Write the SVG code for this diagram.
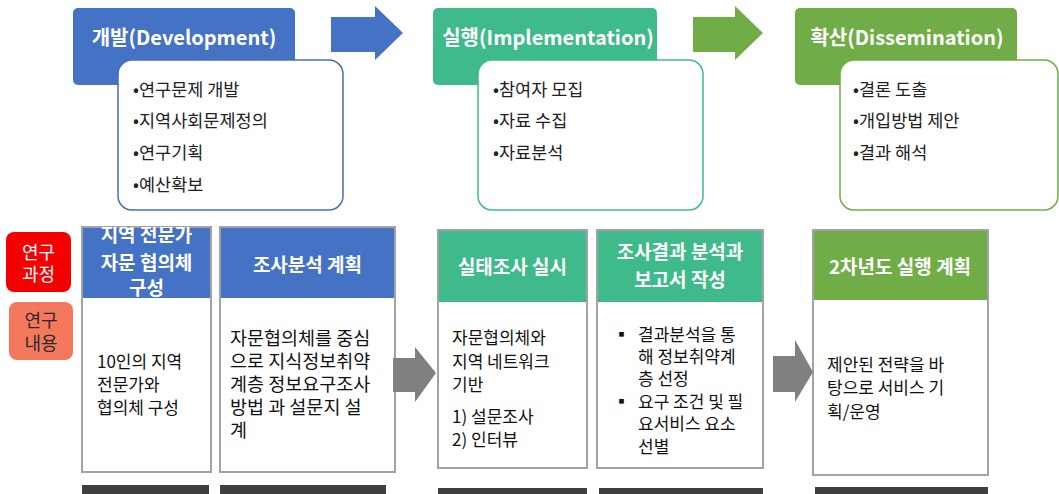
<svg xmlns="http://www.w3.org/2000/svg" width="1059" height="494" viewBox="0 0 1059 494">
<style>
text{font-family:"Noto Sans CJK KR","Noto Sans",sans-serif}
.ht{fill:#fff;font-size:20px;font-weight:700;text-anchor:middle}
.bl{fill:#222;font-size:17.5px}
.ch{fill:#fff;font-size:19px;font-weight:700;text-anchor:middle}
.cb{fill:#111;font-size:17px}
.c2{font-size:18.5px}
.col{fill:#fff;stroke:#a3a3a3;stroke-width:2}
.bar{fill:#3f3f42}
.lab{font-size:18px;text-anchor:middle}
</style>
<defs>
<clipPath id="c1"><rect x="82" y="227" width="129" height="71"/></clipPath>
</defs>
<rect width="1059" height="494" fill="#fff"/>

<g id="dev">
<rect x="73" y="8" width="222" height="77" rx="5" fill="#4472c4"/>
<text class="ht" x="184" y="45">개발(Development)</text>
<rect x="118" y="60" width="225" height="150" rx="14" fill="#fff" stroke="#4a6fae" stroke-width="1.5"/>
<text class="bl" x="133" y="96">•연구문제 개발</text>
<text class="bl" x="133" y="127">•지역사회문제정의</text>
<text class="bl" x="133" y="159">•연구기획</text>
<text class="bl" x="133" y="191">•예산확보</text>
</g>

<g id="impl">
<rect x="433" y="8" width="224" height="77" rx="5" fill="#3fba8b"/>
<text class="ht" x="548" y="45">실행(Implementation)</text>
<rect x="478" y="60" width="225" height="150" rx="14" fill="#fff" stroke="#3fba8b" stroke-width="1.5"/>
<text class="bl" x="493" y="96">•참여자 모집</text>
<text class="bl" x="493" y="127">•자료 수집</text>
<text class="bl" x="493" y="159">•자료분석</text>
</g>

<g id="diss">
<rect x="795" y="8" width="222" height="77" rx="5" fill="#70ad47"/>
<text class="ht" x="907" y="45">확산(Dissemination)</text>
<rect x="840" y="60" width="218" height="150" rx="14" fill="#fff" stroke="#70ad47" stroke-width="1.5"/>
<text class="bl" x="853" y="96">•결론 도출</text>
<text class="bl" x="853" y="127">•개입방법 제안</text>
<text class="bl" x="853" y="159">•결과 해석</text>
</g>

<g id="label-process">
<rect x="6" y="232" width="65" height="60" rx="8" fill="#f50000"/>
<text class="lab" x="38.5" y="259" fill="#fff">연구</text>
<text class="lab" x="38.5" y="281" fill="#fff">과정</text>
</g>
<g id="label-content">
<rect x="9" y="302" width="64" height="58" rx="8" fill="#f4785c"/>
<text class="lab" x="41" y="327" fill="#2a2a2a">연구</text>
<text class="lab" x="41" y="350" fill="#2a2a2a">내용</text>
</g>

<g id="col1">
<rect class="col" x="82" y="227" width="129" height="245"/>
<rect x="83" y="228" width="127" height="70" fill="#4472c4"/>
<g clip-path="url(#c1)">
<text class="ch" x="146.5" y="242">지역 전문가</text>
<text class="ch" x="146.5" y="270">자문 협의체</text>
<text class="ch" x="146.5" y="295">구성</text>
</g>
<text class="cb" x="97" y="368">10인의 지역</text>
<text class="cb" x="97" y="391">전문가와</text>
<text class="cb" x="97" y="414">협의체 구성</text>
<rect class="bar" x="82" y="485" width="127" height="9"/>
</g>

<g id="col2">
<rect class="col" x="220" y="227" width="175" height="245"/>
<rect x="221" y="228" width="173" height="70" fill="#4472c4"/>
<text class="ch" x="307.5" y="272">조사분석 계획</text>
<text class="cb c2" x="230" y="345">자문협의체를 중심</text>
<text class="cb c2" x="230" y="368">으로 지식정보취약</text>
<text class="cb c2" x="230" y="391">계층 정보요구조사</text>
<text class="cb c2" x="230" y="414">방법 과 설문지 설</text>
<text class="cb c2" x="230" y="437">계</text>
<rect class="bar" x="220" y="485" width="166" height="9"/>
</g>

<g id="col3">
<rect class="col" x="438" y="230" width="149" height="238"/>
<rect x="439" y="231" width="147" height="71" fill="#3fba8b"/>
<text class="ch" x="512.5" y="274">실태조사 실시</text>
<text class="cb" x="452" y="344">자문협의체와</text>
<text class="cb" x="452" y="368">지역 네트워크</text>
<text class="cb" x="452" y="391">기반</text>
<text class="cb" x="452" y="423">1) 설문조사</text>
<text class="cb" x="452" y="446">2) 인터뷰</text>
<rect class="bar" x="438" y="488" width="149" height="6"/>
</g>

<g id="col4">
<rect class="col" x="597" y="230" width="166" height="238"/>
<rect x="598" y="231" width="164" height="71" fill="#3fba8b"/>
<text class="ch" x="680" y="259">조사결과 분석과</text>
<text class="ch" x="680" y="287">보고서 작성</text>
<text class="cb" x="613" y="341">▪</text>
<text class="cb" x="638" y="341">결과분석을 통</text>
<text class="cb" x="638" y="363">해 정보취약계</text>
<text class="cb" x="638" y="385">층 선정</text>
<text class="cb" x="613" y="408">▪</text>
<text class="cb" x="638" y="408">요구 조건 및 필</text>
<text class="cb" x="638" y="430">요서비스 요소</text>
<text class="cb" x="638" y="453">선별</text>
<rect class="bar" x="599" y="488" width="164" height="6"/>
</g>

<g id="col5">
<rect class="col" x="813" y="230" width="175" height="245"/>
<rect x="814" y="231" width="173" height="69" fill="#70ad47"/>
<text class="ch" x="900" y="274">2차년도 실행 계획</text>
<text class="cb" x="827" y="371">제안된 전략을 바</text>
<text class="cb" x="827" y="394">탕으로 서비스 기</text>
<text class="cb" x="827" y="418">획/운영</text>
<rect class="bar" x="815" y="487" width="173" height="7"/>
</g>

<g id="connectors">
<polygon points="331,17 375,17 375,6 403,33 375,60 375,52 331,52" fill="#4472c4"/>
<polygon points="693,17 735,17 735,6 763,33 735,60 735,52 693,52" fill="#70ad47"/>
<polygon points="393,358 415,358 415,347 436,373 415,402 415,392 393,392" fill="#808080"/>
<polygon points="773,356 795,356 795,340 813,372 795,402 795,392 773,392" fill="#808080"/>
</g>
</svg>
